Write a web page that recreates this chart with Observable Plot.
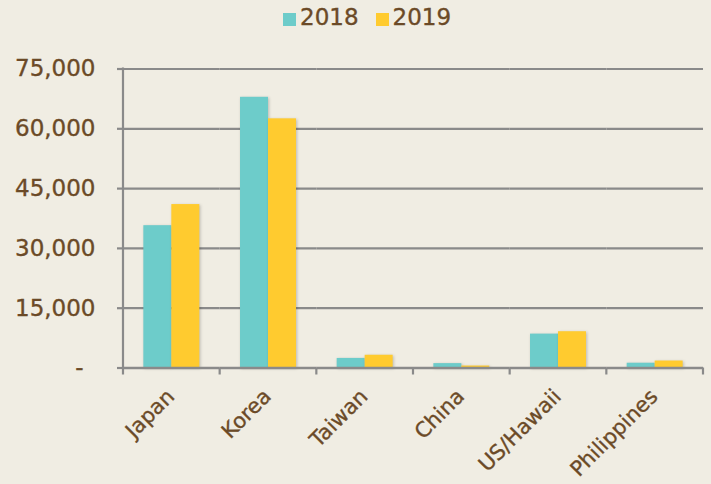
<!DOCTYPE html>
<html>
<head>
<meta charset="utf-8">
<script src="https://cdn.jsdelivr.net/npm/d3@7"></script>
<script src="https://cdn.jsdelivr.net/npm/@observablehq/plot@0.6"></script>
<style>
  html, body { margin: 0; padding: 0; }
  body { background: #f0ede3; width: 711px; height: 484px; overflow: hidden; font-family: "DejaVu Sans", sans-serif; position: relative; }
  #legend { position: absolute; left: 283px; top: 4px; height: 27px; display: flex; align-items: flex-end; color: #6b4a27; font-size: 23px; line-height: 27px; -webkit-text-stroke: 0.35px #6b4a27; }
  .item { display: flex; align-items: flex-end; margin-right: 17px; }
  .sw { width: 13px; height: 13px; margin-right: 4px; margin-bottom: 5px; }
  #chart { position: absolute; left: 0; top: 40px; }
  g[aria-label="bar"] rect { filter: drop-shadow(1px 1px 1.5px rgba(0,0,0,0.22)); }
  svg text { stroke: #6b4a27; stroke-width: 0.35px; }
</style>
</head>
<body>
<div id="legend"></div>
<div id="chart"></div>
<script>
const categories = ["Japan", "Korea", "Taiwan", "China", "US/Hawaii", "Philippines"];
const years = ["2018", "2019"];
const values2018 = [35700, 67900, 2400, 1100, 8500, 1200];
const values2019 = [41000, 62500, 3200, 500, 9100, 1750];
const yTicks = [0, 15000, 30000, 45000, 60000, 75000];
const colors = ["#6dccca", "#ffcb2f"];

const data = categories.flatMap((c, i) => [
  {category: c, year: years[0], value: values2018[i]},
  {category: c, year: years[1], value: values2019[i]}
]);

// legend
const legend = document.getElementById("legend");
years.forEach((yr, i) => {
  const item = document.createElement("div");
  item.className = "item";
  const sw = document.createElement("span");
  sw.className = "sw";
  sw.style.background = colors[i];
  const t = document.createElement("span");
  t.textContent = yr;
  item.appendChild(sw);
  item.appendChild(t);
  legend.appendChild(item);
});

const brown = "#6b4a27";
const gray = "#8a8a8a";
const fmt = d3.format(",");

const plot = Plot.plot({
  width: 711,
  height: 444,
  marginTop: 28.5,
  marginBottom: 116.5,
  marginLeft: 123,
  marginRight: 8,
  style: {background: "transparent", fontFamily: "DejaVu Sans, sans-serif", color: brown, fontSize: "22px"},
  fx: {domain: categories, padding: 0, round: false, label: null},
  x: {domain: years, paddingInner: 0, paddingOuter: 0.727, round: false, axis: null},
  y: {domain: [0, 75000], label: null},
  color: {domain: years, range: colors},
  marks: [
    Plot.gridY(yTicks.filter(d => d > 0), {stroke: gray, strokeOpacity: 1, strokeWidth: 2.2}),
    Plot.barY(data, {fx: "category", x: "year", y: "value", fill: "year"}),
    Plot.ruleY([0], {stroke: gray, strokeWidth: 2.4}),
    Plot.axisY(yTicks.filter(d => d > 0), {
      tickFormat: d => fmt(d),
      tickSize: 6, tickPadding: 22,
      stroke: gray, strokeWidth: 2.2, strokeOpacity: 1,
      fill: brown, fontSize: 23, label: null
    }),
    Plot.axisY([0], {
      tickFormat: () => "-",
      tickSize: 6, tickPadding: 34,
      stroke: gray, strokeWidth: 2.2, strokeOpacity: 1,
      fill: brown, fontSize: 23, label: null
    }),
    Plot.axisFx({
      anchor: "bottom", tickSize: 0, tickRotate: -45, tickPadding: 25, dx: -1,
      fill: brown, fontSize: 21, label: null
    })
  ]
});

document.getElementById("chart").appendChild(plot);

// axis line and boundary ticks, drawn from Plot's own scales
const fxS = plot.scale("fx");
const yS = plot.scale("y");
const band = d3.scaleBand().domain(fxS.domain).range(fxS.range).padding(0);
const ys = d3.scaleLinear().domain(yS.domain).range(yS.range);
const y0 = ys(0), yTop = ys(d3.max(yTicks));
const g = d3.select(plot).append("g").attr("stroke", gray).attr("stroke-width", 2.2);
g.append("line").attr("x1", fxS.range[0]).attr("x2", fxS.range[0]).attr("y1", yTop - 1).attr("y2", y0 + 7);
const bounds = [...fxS.domain.map(d => band(d)), fxS.range[1]];
g.selectAll(".bt").data(bounds.slice(1)).join("line")
  .attr("x1", d => d).attr("x2", d => d).attr("y1", y0).attr("y2", y0 + 7);
</script>
</body>
</html>
